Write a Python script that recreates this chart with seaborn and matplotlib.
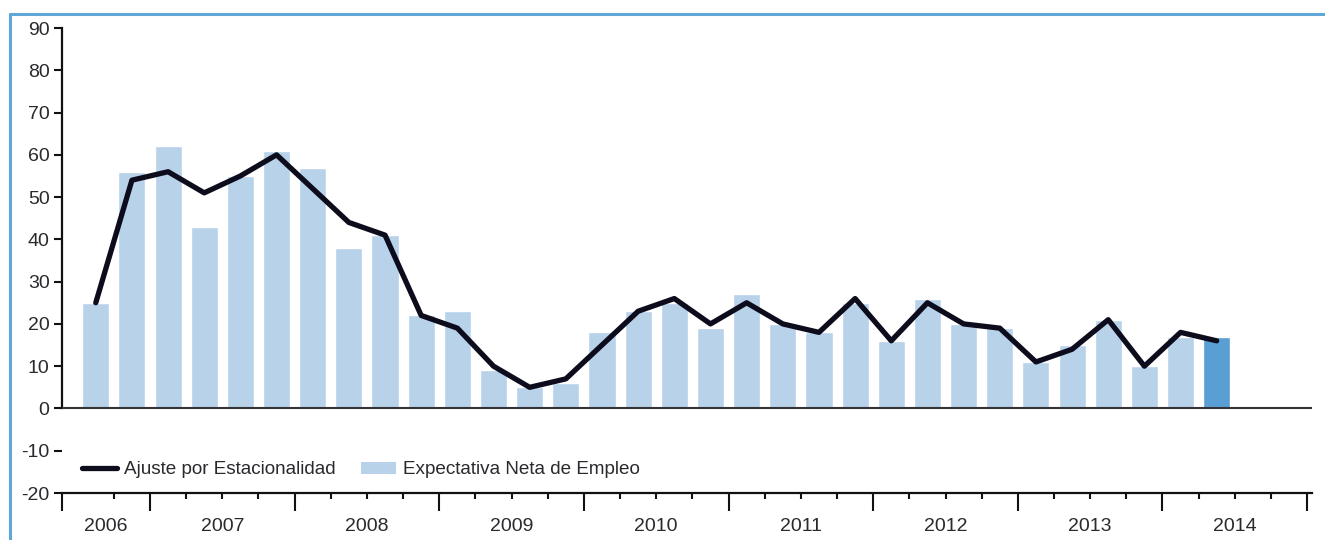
import numpy as np
import pandas as pd
import matplotlib.pyplot as plt
import seaborn as sns
from matplotlib.lines import Line2D
from matplotlib.patches import Patch

# quarters from 2006 T3 to 2014 T2 (last one is the forecast)
years = ['2006', '2007', '2008', '2009', '2010', '2011', '2012', '2013', '2014']
quarters = (['2006-T3', '2006-T4']
            + [f'{y}-T{t}' for y in years[1:-1] for t in (1, 2, 3, 4)]
            + ['2014-T1', '2014-T2'])

expectativa = [25, 56, 62, 43, 55, 61, 57, 38, 41, 22, 23, 9, 5, 6, 18, 23,
               25, 19, 27, 20, 18, 25, 16, 26, 20, 19, 11, 15, 21, 10, 17, 17]
ajuste = [25, 54, 56, 51, 55, 60, 52, 44, 41, 22, 19, 10, 5, 7, 15, 23,
          26, 20, 25, 20, 18, 26, 16, 25, 20, 19, 11, 14, 21, 10, 18, 16]

BAR = '#b8d2ea'
BAR_LAST = '#5a9fd4'
LINE = '#0c0c1c'
TXT = '#2a2a2e'
FRAME = '#5fa6d9'

df = pd.DataFrame({'trimestre': quarters,
                   'pos': np.arange(len(quarters)),
                   'expectativa': expectativa,
                   'ajuste': ajuste})
df['tipo'] = ['real'] * (len(df) - 1) + ['prevision']

sns.set_style('white')
plt.rcParams['font.family'] = ['Liberation Sans', 'DejaVu Sans']
plt.rcParams['axes.unicode_minus'] = False

fig = plt.figure(figsize=(13.25, 5.4), dpi=100)
W, H = 1325, 540
ax = fig.add_axes([62 / W, 1 - 493 / H, (1312 - 62) / W, (493 - 28) / H])

sns.barplot(data=df, x='pos', y='expectativa', hue='tipo', native_scale=True,
            palette={'real': BAR, 'prevision': BAR_LAST}, width=0.75,
            dodge=False, legend=False, saturation=1, ax=ax, zorder=2)
sns.lineplot(data=df, x='pos', y='ajuste', color=LINE, lw=3.8, ax=ax,
             zorder=3, solid_capstyle='round')

ax.axhline(0, color='#333338', lw=1.5, zorder=4)

# x layout: year boundaries every 4 quarters, first year cut on the left
x_left = 1.5 - 88 / 36.16
x_right = 1.5 + (1312 - 150) / 36.16
ax.set_xlim(x_left, x_right)
ax.set_ylim(-20, 90)

bounds = [1.5 + 4 * k for k in range(len(years))]
ax.set_xticks([x_left] + bounds)
ax.set_xticks(np.arange(0.5, bounds[-1] + 0.1, 1.0), minor=True)
ax.set_xticklabels([])
ax.tick_params(axis='x', which='major', direction='out', length=13, width=1.5,
               color='#111111', bottom=True)
ax.tick_params(axis='x', which='minor', direction='out', length=4.5, width=1.5,
               color='#111111', bottom=True)

ax.set_yticks(np.arange(-20, 91, 10))
ax.tick_params(axis='y', direction='out', length=6, width=1.5, color='#111111',
               labelsize=14, labelcolor=TXT, pad=3, left=True)

starts = [x_left] + bounds[:-1]
ends = bounds
for yr, a, b in zip(years, starts, ends):
    ax.text((a + b) / 2, -0.072, yr, transform=ax.get_xaxis_transform(),
            ha='center', va='center', fontsize=14, color=TXT)

for side in ('top', 'right'):
    ax.spines[side].set_visible(False)
ax.spines['left'].set_bounds(0, 90)
ax.spines['left'].set_linewidth(1.6)
ax.spines['left'].set_color('#111111')
ax.spines['bottom'].set_linewidth(1.6)
ax.spines['bottom'].set_color('#111111')
ax.set_xlabel('')
ax.set_ylabel('')

handles = [Line2D([0], [0], color=LINE, lw=3.8, solid_capstyle='round'),
           Patch(facecolor=BAR, edgecolor='none')]
fig.legend(handles, ['Ajuste por Estacionalidad', 'Expectativa Neta de Empleo'],
           loc='center left', bbox_to_anchor=(82 / W, 1 - 470 / H), ncol=2,
           frameon=False, fontsize=13.6, handlelength=1.85, handleheight=0.55,
           handletextpad=0.4, columnspacing=1.3, borderpad=0,
           borderaxespad=0, labelcolor=TXT)

# light blue frame on the left and top
fig.add_artist(Line2D([10 / W, 10 / W], [0, 1 - 14 / H], color=FRAME, lw=2.2,
                      transform=fig.transFigure))
fig.add_artist(Line2D([10 / W, 1], [1 - 14 / H, 1 - 14 / H], color=FRAME,
                      lw=2.2, transform=fig.transFigure))

fig.savefig('out.png', dpi=100)
